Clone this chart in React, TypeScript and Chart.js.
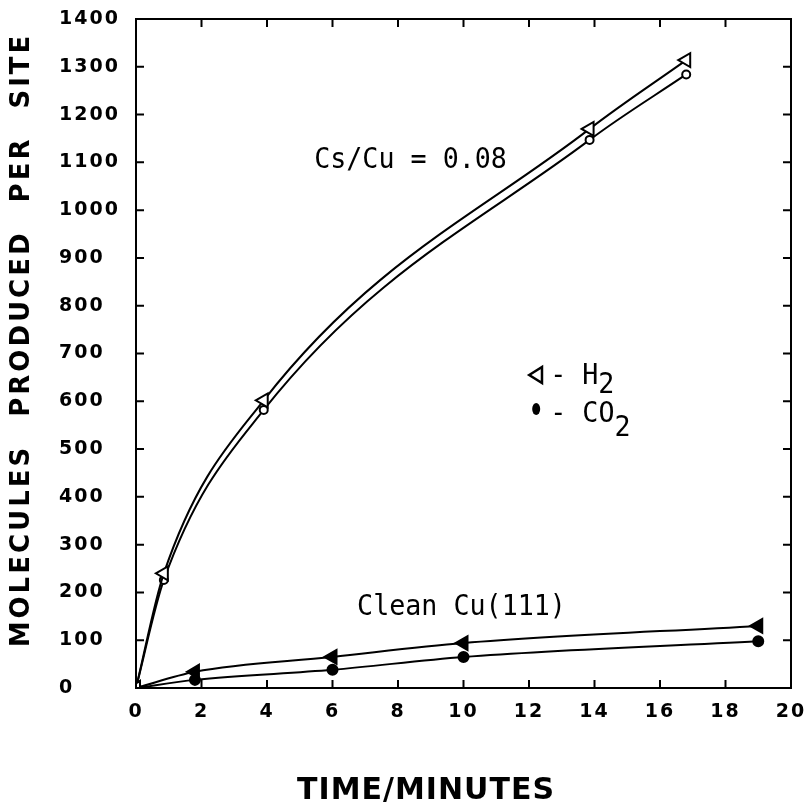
import React, { useEffect, useRef } from 'react';
import { Chart, registerables } from 'chart.js';

Chart.register(...registerables);

// ---- data ----
const csTime = [0, 0.85, 3.9, 13.85, 16.8];
const csH2 = [0, 240, 602, 1170, 1314];
const csCO2 = [0, 226, 582, 1147, 1284];

const cleanTime = [0, 1.8, 6, 10, 19];
const cleanH2 = [0, 34, 65, 94, 130];
const cleanCO2 = [0, 17, 38, 65, 98];

const xMin = 0;
const xMax = 20;
const xStep = 2;
const yMin = 0;
const yMax = 1400;
const yStep = 100;

const xTitle = 'TIME/MINUTES';
const yTitle = 'MOLECULES PRODUCED PER SITE';
const csLabel = 'Cs/Cu = 0.08';
const cleanLabel = 'Clean Cu(111)';
const legendH2 = ['- H', '2'];
const legendCO2 = ['- CO', '2'];

// annotation anchors in data coordinates
const csLabelAt = { x: 5.44, y: 1088 };
const cleanLabelAt = { x: 6.75, y: 153 };
const legendTriAt = { x: 12.25, y: 655 };
const legendDotAt = { x: 12.25, y: 584 };

const toPts = (xs: number[], ys: number[]) => xs.map((x, i) => ({ x, y: ys[i] }));

const TEXT_FONT = '29px "DejaVu Sans Mono"';
const TEXT_SX = 0.92;

function scaledText(ctx: CanvasRenderingContext2D, text: string, x: number, y: number) {
  ctx.save();
  ctx.translate(x, y);
  ctx.scale(TEXT_SX, 1);
  ctx.fillText(text, 0, 0);
  ctx.restore();
}

const framePlugin = {
  id: 'framePlugin',
  beforeLayout(chart: any) {
    chart.ctx.letterSpacing = '2px';
  },
  beforeDraw(chart: any) {
    const ctx = chart.ctx;
    ctx.save();
    ctx.fillStyle = '#ffffff';
    ctx.fillRect(0, 0, chart.width, chart.height);
    ctx.restore();
    ctx.letterSpacing = '2px';
  },
  afterDraw(chart: any) {
    const ctx: CanvasRenderingContext2D = chart.ctx;
    const { left, right, top, bottom } = chart.chartArea;
    const xs = chart.scales.x;
    const ys = chart.scales.y;
    ctx.save();
    (ctx as any).letterSpacing = '0px';
    ctx.strokeStyle = '#000';
    ctx.fillStyle = '#000';
    ctx.lineWidth = 2;
    ctx.strokeRect(left, top, right - left, bottom - top);
    const tl = 8;
    ctx.beginPath();
    xs.ticks.forEach((t: any) => {
      const px = xs.getPixelForValue(t.value);
      if (t.value === xMin || t.value === xMax) return;
      ctx.moveTo(px, bottom);
      ctx.lineTo(px, bottom - tl);
      ctx.moveTo(px, top);
      ctx.lineTo(px, top + tl);
    });
    ys.ticks.forEach((t: any) => {
      const py = ys.getPixelForValue(t.value);
      if (t.value === yMin || t.value === yMax) return;
      ctx.moveTo(left, py);
      ctx.lineTo(left + tl, py);
      ctx.moveTo(right, py);
      ctx.lineTo(right - tl, py);
    });
    ctx.stroke();

    // axis titles
    ctx.textAlign = 'center';
    ctx.textBaseline = 'middle';
    ctx.font = 'bold 26px "DejaVu Sans"';
    (ctx as any).letterSpacing = '3px';
    (ctx as any).wordSpacing = '16px';
    ctx.save();
    ctx.translate(22, 340);
    ctx.rotate(-Math.PI / 2);
    ctx.fillText(yTitle, 0, 0);
    ctx.restore();

    ctx.font = 'bold 30px "DejaVu Sans"';
    (ctx as any).letterSpacing = '1px';
    (ctx as any).wordSpacing = '0px';
    ctx.fillText(xTitle, 426, 791);

    // annotations
    (ctx as any).letterSpacing = '0px';
    ctx.font = TEXT_FONT;
    ctx.textAlign = 'left';
    ctx.textBaseline = 'alphabetic';
    scaledText(ctx, csLabel, xs.getPixelForValue(csLabelAt.x), ys.getPixelForValue(csLabelAt.y));
    scaledText(ctx, cleanLabel, xs.getPixelForValue(cleanLabelAt.x), ys.getPixelForValue(cleanLabelAt.y));

    // legend
    const tx = xs.getPixelForValue(legendTriAt.x);
    const ty = ys.getPixelForValue(legendTriAt.y);
    const r = 8;
    ctx.lineWidth = 2.5;
    ctx.beginPath();
    ctx.moveTo(tx - r, ty);
    ctx.lineTo(tx + r * 0.6, ty - r);
    ctx.lineTo(tx + r * 0.6, ty + r);
    ctx.closePath();
    ctx.stroke();
    const charW = 0.602 * 29 * TEXT_SX;
    scaledText(ctx, legendH2[0], tx + 13, ty + 9);
    scaledText(ctx, legendH2[1], tx + 13 + charW * legendH2[0].length, ty + 18);

    const dx = xs.getPixelForValue(legendDotAt.x);
    const dy = ys.getPixelForValue(legendDotAt.y);
    ctx.beginPath();
    ctx.ellipse(dx - 1, dy, 4, 6, 0, 0, Math.PI * 2);
    ctx.fill();
    scaledText(ctx, legendCO2[0], dx + 13, dy + 13);
    scaledText(ctx, legendCO2[1], dx + 13 + charW * legendCO2[0].length, dy + 27);
    ctx.restore();
  },
};

export default function App() {
  const canvasRef = useRef<HTMLCanvasElement | null>(null);

  useEffect(() => {
    const canvas = canvasRef.current;
    if (!canvas) return;
    const lineBase = {
      borderColor: '#000',
      borderWidth: 2,
      showLine: true,
      fill: false,
      cubicInterpolationMode: 'monotone' as const,
      pointBorderColor: '#000',
      pointBorderWidth: 2,
    };
    const tickFont = { family: '"DejaVu Sans"', size: 19, weight: 'bold' as const };
    const chart = new Chart(canvas, {
      type: 'scatter',
      data: {
        datasets: [
          {
            ...lineBase,
            label: 'Cs/Cu H2',
            data: toPts(csTime, csH2),
            pointStyle: 'triangle',
            pointRotation: -90,
            pointRadius: 8,
            pointBackgroundColor: '#fff',
          },
          {
            ...lineBase,
            label: 'Cs/Cu CO2',
            data: toPts(csTime, csCO2),
            pointStyle: 'circle',
            pointRadius: 4,
            pointBackgroundColor: '#fff',
          },
          {
            ...lineBase,
            label: 'Clean H2',
            data: toPts(cleanTime, cleanH2),
            pointStyle: 'triangle',
            pointRotation: -90,
            pointRadius: 8,
            pointBackgroundColor: '#000',
          },
          {
            ...lineBase,
            label: 'Clean CO2',
            data: toPts(cleanTime, cleanCO2),
            pointStyle: 'circle',
            pointRadius: 5,
            pointBackgroundColor: '#000',
          },
        ],
      },
      options: {
        responsive: false,
        animation: false,
        devicePixelRatio: 1,
        layout: { padding: { left: 59, right: 17, top: 19, bottom: 0 } },
        plugins: {
          legend: { display: false },
          tooltip: { enabled: false },
          title: { display: false },
        },
        scales: {
          x: {
            type: 'linear',
            min: xMin,
            max: xMax,
            border: { display: false },
            grid: { display: false, drawTicks: false },
            ticks: {
              stepSize: xStep,
              color: '#000',
              padding: 13,
              font: tickFont,
              callback: (v: any) => String(v),
            },
            afterFit: (s: any) => {
              s.height = 118;
              s.paddingLeft = 0;
              s.paddingRight = 0;
            },
          },
          y: {
            type: 'linear',
            min: yMin,
            max: yMax,
            border: { display: false },
            grid: { display: false, drawTicks: false },
            ticks: {
              stepSize: yStep,
              color: '#000',
              crossAlign: 'far',
              font: tickFont,
              callback: (v: any) => String(v),
            },
            afterFit: (s: any) => {
              s.width = 77;
              s.paddingTop = 0;
              s.paddingBottom = 0;
            },
          },
        },
      },
      plugins: [framePlugin],
    } as any);
    return () => chart.destroy();
  }, []);

  return (
    <div style={{ position: 'absolute', left: 0, top: 0, width: 808, height: 806, background: '#fff' }}>
      <canvas ref={canvasRef} width={808} height={806} style={{ display: 'block' }} />
    </div>
  );
}
